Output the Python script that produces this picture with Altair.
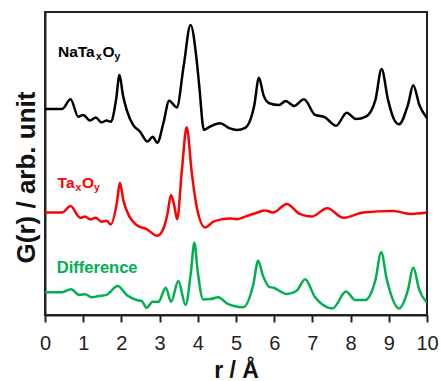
import altair as alt
import pandas as pd

# --- data (r in Å, G(r) in arbitrary stacked units) ---
r_black = [0, 0.45, 0.67, 0.87, 1.0, 1.18, 1.33, 1.48, 1.61, 1.72, 1.86, 1.95, 2.04, 2.14, 2.31, 2.49,
           2.68, 2.82, 2.94, 3.1, 3.25, 3.45, 3.63, 3.81, 3.97, 4.04, 4.16, 4.32, 4.58, 4.84, 5.02,
           5.24, 5.48, 5.60, 5.72, 5.87, 6.13, 6.30, 6.52, 6.78, 7.07, 7.33, 7.62, 7.90, 8.14, 8.40,
           8.65, 8.81, 8.98, 9.12, 9.27, 9.5, 9.64, 9.8, 10.0]
g_black = [6.87, 6.87, 7.19, 6.61, 6.67, 6.48, 6.58, 6.42, 6.48, 6.44, 7.17, 8.0, 7.33, 6.83, 6.33, 6.11,
           5.78, 5.94, 5.74, 6.4, 7.14, 6.92, 8.3, 9.67, 8.5, 7.61, 6.17, 6.28, 6.39, 6.22, 6.17,
           6.24, 7.0, 7.91, 7.33, 7.06, 7.0, 7.13, 6.97, 7.19, 6.67, 6.59, 6.31, 6.74, 6.53, 6.61,
           7.17, 8.2, 7.17, 6.57, 6.36, 7.0, 7.66, 7.0, 6.56]

r_red = [0, 0.45, 0.67, 0.92, 1.05, 1.18, 1.33, 1.48, 1.61, 1.72, 1.88, 1.96, 2.05, 2.21, 2.40, 2.66,
         2.94, 3.12, 3.2, 3.30, 3.38, 3.46, 3.58, 3.71, 3.84, 3.97, 4.19, 4.41, 4.63, 4.84, 5.02,
         5.24, 5.54, 5.76, 5.98, 6.33, 6.68, 6.98, 7.39, 7.81, 8.33, 9.12, 9.55, 10.0]
g_red = [3.42, 3.42, 3.63, 3.24, 3.28, 3.19, 3.24, 3.11, 3.14, 3.02, 3.73, 4.41, 3.83, 3.28, 3.0, 2.86,
         2.64, 2.94, 3.33, 4.0, 3.67, 3.19, 4.77, 6.26, 4.77, 3.61, 2.92, 3.11, 3.19, 3.22, 3.19,
         3.28, 3.41, 3.48, 3.42, 3.7, 3.36, 3.28, 3.56, 3.24, 3.42, 3.47, 3.37, 3.42]

r_green = [0, 0.45, 0.68, 0.9, 1.05, 1.22, 1.4, 1.61, 1.90, 2.14, 2.40, 2.53, 2.66, 2.82, 2.97, 3.16,
           3.30, 3.49, 3.68, 3.82, 3.91, 4.0, 4.14, 4.32, 4.54, 4.76, 5.19, 5.45, 5.58, 5.7, 5.87,
           5.98, 6.33, 6.59, 6.81, 7.07, 7.53, 7.88, 8.12, 8.38, 8.65, 8.80, 8.95, 9.27, 9.5, 9.64,
           9.8, 10.0]
g_green = [0.76, 0.76, 0.86, 0.67, 0.69, 0.59, 0.63, 0.67, 0.97, 0.67, 0.5, 0.47, 0.24, 0.44, 0.44, 0.91,
           0.44, 1.13, 0.33, 1.43, 2.41, 1.43, 0.52, 0.53, 0.59, 0.39, 0.26, 1.0, 1.81, 1.33, 0.94,
           0.91, 0.7, 0.81, 1.19, 0.59, 0.22, 0.78, 0.5, 0.5, 1.17, 2.09, 1.17, 0.22, 0.83, 1.58,
           0.83, 0.41]

series_names = ["NaTaxOy", "TaxOy", "Difference"]
series_colors = ["#000000", "#ff0000", "#00b04f"]
x_ticks = [0, 1, 2, 3, 4, 5, 6, 7, 8, 9, 10]

frames = []
for name, rr, gg in zip(series_names, [r_black, r_red, r_green], [g_black, g_red, g_green]):
    frames.append(pd.DataFrame({"r": rr, "G": gg, "series": name}))
df = pd.concat(frames, ignore_index=True)

font = "Liberation Sans"

x_scale = alt.Scale(domain=[0, 10], nice=False)
y_scale = alt.Scale(domain=[0, 10.1], nice=False, zero=False)
x_axis = alt.Axis(values=x_ticks, title="r / Å", format="d",
                  labelOverlap=False, labelFlush=False, labelBound=False)
y_axis = alt.Axis(title="G(r) / arb. unit", labels=False, ticks=False, grid=False)

lines = alt.Chart(df).mark_line(
    strokeWidth=2.5, interpolate="monotone", clip=True
).encode(
    x=alt.X("r:Q", scale=x_scale, axis=x_axis),
    y=alt.Y("G:Q", scale=y_scale, axis=y_axis),
    color=alt.Color("series:N", scale=alt.Scale(domain=series_names, range=series_colors), legend=None),
    detail="series:N",
)


def piece(text, r, g, color, dx=0, dy=0, size=15.5):
    pdf = pd.DataFrame({"r": [r], "G": [g]})
    return alt.Chart(pdf).mark_text(
        text=text, align="left", baseline="alphabetic", font=font, fontWeight="bold",
        fontSize=size, color=color, dx=dx, dy=dy
    ).encode(x=alt.X("r:Q", scale=x_scale, axis=x_axis),
             y=alt.Y("G:Q", scale=y_scale, axis=y_axis))


labels = [
    piece("NaTa", 0.34, 8.59, "#000000"),
    piece("x", 0.34, 8.59, "#000000", dx=38, dy=3, size=10.5),
    piece("O", 0.34, 8.59, "#000000", dx=44.5),
    piece("y", 0.34, 8.59, "#000000", dx=56.5, dy=3, size=10.5),
    piece("Ta", 0.33, 4.23, "#ff0000"),
    piece("x", 0.33, 4.23, "#ff0000", dx=18, dy=3, size=10.5),
    piece("O", 0.33, 4.23, "#ff0000", dx=24.5),
    piece("y", 0.33, 4.23, "#ff0000", dx=36.5, dy=3, size=10.5),
    piece("Difference", 0.31, 1.4, "#00b04f", size=16.5),
]

chart = alt.layer(lines, *labels).properties(
    width=382, height=303,
    autosize=alt.AutoSizeParams(type="none"),
    padding={"left": 45, "top": 12, "right": 14, "bottom": 66},
).configure_view(
    stroke="#222222", strokeWidth=2
).configure_axis(
    domainColor="#222222", domainWidth=2, tickColor="#222222", tickWidth=2, tickSize=7,
    labelFont=font, labelFontSize=20, labelColor="#222222", labelPadding=11,
    titleFont=font, titleFontWeight="bold", titleColor="#111111", grid=False,
).configure_axisX(
    titleFontSize=23, titleY=44, titleBaseline="top"
).configure_axisY(
    titleFontSize=26, titleX=-19, titleY=165, titleBaseline="middle", titleAngle=-90
)

chart.save("out.html", embed_options={"renderer": "svg", "actions": False})
